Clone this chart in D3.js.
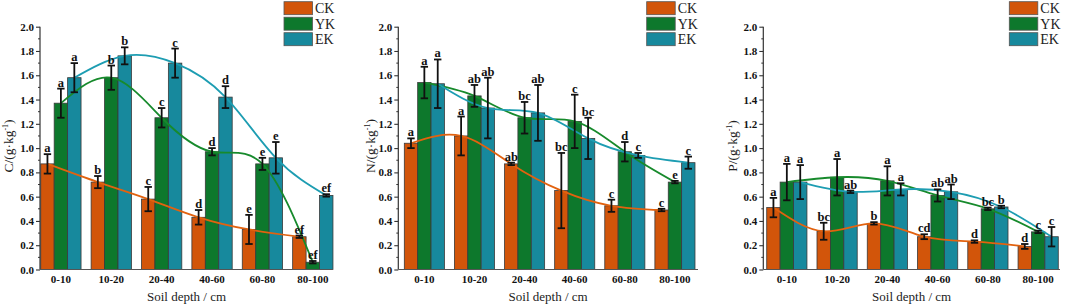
<!DOCTYPE html>
<html>
<head>
<meta charset="utf-8">
<script src="https://cdn.jsdelivr.net/npm/d3@7/dist/d3.min.js"></script>
<style>
  html, body { margin: 0; padding: 0; background: #fff; }
  svg { display: block; }
</style>
</head>
<body>
<svg id="chart" width="1065" height="307"></svg>
<script>
// Soil depth groups and treatments
const CATS = ['0-10', '10-20', '20-40', '40-60', '60-80', '80-100']
const SERIES = ['CK', 'YK', 'EK']
const Y_TICKS = [0, 0.2, 0.4, 0.6, 0.8, 1.0, 1.2, 1.4, 1.6, 1.8, 2.0]

// C content
const C_CK = [0.87, 0.72, 0.58, 0.43, 0.33, 0.27]
const C_YK = [1.37, 1.58, 1.25, 0.97, 0.87, 0.06]
const C_EK = [1.58, 1.76, 1.70, 1.42, 0.92, 0.61]
const C_CK_ERR = [0.08, 0.05, 0.10, 0.06, 0.12, 0.01]
const C_YK_ERR = [0.12, 0.10, 0.08, 0.03, 0.05, 0.01]
const C_EK_ERR = [0.12, 0.07, 0.12, 0.09, 0.13, 0.01]
const C_CK_SIG = ['a', 'b', 'c', 'd', 'e', 'ef']
const C_YK_SIG = ['a', 'b', 'c', 'd', 'e', 'ef']
const C_EK_SIG = ['a', 'b', 'c', 'd', 'e', 'ef']

// N content
const N_CK = [1.04, 1.10, 0.87, 0.65, 0.525, 0.49]
const N_YK = [1.54, 1.43, 1.25, 1.22, 0.97, 0.72]
const N_EK = [1.53, 1.33, 1.29, 1.08, 0.94, 0.88]
const N_CK_ERR = [0.04, 0.16, 0.01, 0.31, 0.05, 0.01]
const N_YK_ERR = [0.13, 0.09, 0.13, 0.22, 0.08, 0.01]
const N_EK_ERR = [0.20, 0.25, 0.23, 0.17, 0.02, 0.05]
const N_CK_SIG = ['a', 'a', 'ab', 'bc', 'c', 'c']
const N_YK_SIG = ['a', 'ab', 'bc', 'c', 'd', 'e']
const N_EK_SIG = ['a', 'ab', 'ab', 'bc', 'c', 'c']

// P content
const P_CK = [0.51, 0.315, 0.38, 0.27, 0.23, 0.19]
const P_YK = [0.72, 0.76, 0.73, 0.61, 0.50, 0.31]
const P_EK = [0.72, 0.64, 0.66, 0.64, 0.515, 0.27]
const P_CK_ERR = [0.08, 0.07, 0.01, 0.02, 0.01, 0.02]
const P_YK_ERR = [0.15, 0.15, 0.12, 0.05, 0.01, 0.01]
const P_EK_ERR = [0.14, 0.01, 0.05, 0.06, 0.01, 0.08]
const P_CK_SIG = ['a', 'bc', 'b', 'cd', 'd', 'd']
const P_YK_SIG = ['a', 'a', 'a', 'ab', 'bc', 'c']
const P_EK_SIG = ['a', 'ab', 'a', 'ab', 'b', 'c']

const BAR_COLORS = { CK: '#d2550a', YK: '#0d782c', EK: '#17899d' }
const LINE_COLORS = { CK: '#e2620f', YK: '#178a2c', EK: '#1d9db2' }
const FONT = '"Liberation Serif","Times New Roman",serif'

const panels = [
  { label: 'C', axisX: 40, xEnd: 333, band: [35.7, 338], legX: 284, titleX: 9,
    values: { CK: C_CK, YK: C_YK, EK: C_EK },
    errs: { CK: C_CK_ERR, YK: C_YK_ERR, EK: C_EK_ERR },
    sig: { CK: C_CK_SIG, YK: C_YK_SIG, EK: C_EK_SIG } },
  { label: 'N', axisX: 398.3, xEnd: 698, band: [399.3, 700], legX: 646.7, titleX: 371,
    values: { CK: N_CK, YK: N_YK, EK: N_EK },
    errs: { CK: N_CK_ERR, YK: N_YK_ERR, EK: N_EK_ERR },
    sig: { CK: N_CK_SIG, YK: N_YK_SIG, EK: N_EK_SIG } },
  { label: 'P', axisX: 763.3, xEnd: 1060, band: [761.7, 1063.3], legX: 1009.3, titleX: 733,
    values: { CK: P_CK, YK: P_YK, EK: P_EK },
    errs: { CK: P_CK_ERR, YK: P_YK_ERR, EK: P_EK_ERR },
    sig: { CK: P_CK_SIG, YK: P_YK_SIG, EK: P_EK_SIG } }
]

const svg = d3.select('#chart')
const y = d3.scaleLinear().domain([0, 2]).range([269.5, 26.7])

panels.forEach(p => {
  const g = svg.append('g')

  const x = d3.scaleBand().domain(CATS).range(p.band).paddingInner(0.2).paddingOuter(0.1)
  const xs = d3.scaleBand().domain(SERIES).range([0, x.bandwidth()])
  const cx = (cat, s) => x(cat) + xs(s) + xs.bandwidth() / 2

  // Bars
  SERIES.forEach(s => {
    g.append('g').selectAll('rect')
      .data(CATS.map((c, i) => ({ c, v: p.values[s][i] })))
      .join('rect')
      .attr('x', d => x(d.c) + xs(s))
      .attr('y', d => y(d.v))
      .attr('width', xs.bandwidth())
      .attr('height', d => y(0) - y(d.v))
      .attr('fill', BAR_COLORS[s])
      .attr('stroke', '#3a3a3a')
      .attr('stroke-width', 0.8)
  })

  // Smooth trend lines through bar tops
  SERIES.forEach(s => {
    const line = d3.line()
      .x((d, i) => cx(CATS[i], s))
      .y(d => y(d))
      .curve(d3.curveNatural)
    g.append('path')
      .attr('d', line(p.values[s]))
      .attr('fill', 'none')
      .attr('stroke', LINE_COLORS[s])
      .attr('stroke-width', 1.8)
  })

  // Error bars and significance letters
  SERIES.forEach(s => {
    CATS.forEach((c, i) => {
      const v = p.values[s][i], e = p.errs[s][i]
      const px = cx(c, s)
      const y1 = y(v + e), y0 = y(v - e)
      const eg = g.append('g').attr('stroke', '#111').attr('stroke-width', 1.8)
      eg.append('line').attr('x1', px).attr('x2', px).attr('y1', y1).attr('y2', y0)
      eg.append('line').attr('x1', px - 3.7).attr('x2', px + 3.7).attr('y1', y1).attr('y2', y1)
      eg.append('line').attr('x1', px - 3.7).attr('x2', px + 3.7).attr('y1', y0).attr('y2', y0)
      g.append('text')
        .attr('x', px).attr('y', y1 - 2)
        .attr('text-anchor', 'middle')
        .attr('font-family', FONT).attr('font-weight', 'bold').attr('font-size', '12.5px')
        .attr('fill', '#111')
        .text(p.sig[s][i])
    })
  })

  // Y axis
  g.append('g')
    .attr('transform', `translate(${p.axisX},0)`)
    .call(d3.axisLeft(y).tickValues(Y_TICKS).tickFormat(d3.format('.1f')).tickSize(4).tickPadding(2))
    .call(a => {
      a.select('.domain').attr('stroke', '#333').attr('stroke-width', 1.2)
        .attr('d', `M0,${y(0)}V${y(2)}`)
      a.selectAll('.tick line').attr('stroke', '#333').attr('stroke-width', 1.1)
      a.selectAll('.tick text')
        .attr('fill', '#111').attr('font-size', '11px').attr('font-weight', 'bold')
        .attr('font-family', FONT)
    })
  // minor ticks
  g.append('g').selectAll('line')
    .data(d3.range(0.1, 2, 0.2))
    .join('line')
    .attr('x1', p.axisX - 2).attr('x2', p.axisX)
    .attr('y1', d => y(d)).attr('y2', d => y(d))
    .attr('stroke', '#333').attr('stroke-width', 1)

  // X axis
  g.append('line')
    .attr('x1', p.axisX).attr('x2', p.xEnd)
    .attr('y1', y(0)).attr('y2', y(0))
    .attr('stroke', '#555').attr('stroke-width', 1.2)
  g.append('g').selectAll('text')
    .data(CATS)
    .join('text')
    .attr('x', d => x(d) + x.bandwidth() / 2)
    .attr('y', 283)
    .attr('text-anchor', 'middle')
    .attr('font-family', FONT).attr('font-weight', 'bold').attr('font-size', '11px')
    .attr('fill', '#111')
    .text(d => d)

  // Axis titles
  g.append('text')
    .attr('x', (p.axisX + p.xEnd) / 2).attr('y', 301)
    .attr('text-anchor', 'middle')
    .attr('font-family', FONT).attr('font-size', '13px').attr('fill', '#222')
    .text('Soil depth / cm')

  const yt = g.append('text')
    .attr('transform', `translate(${p.titleX + 4},146) rotate(-90)`)
    .attr('text-anchor', 'middle')
    .attr('font-family', FONT).attr('font-size', '13.5px').attr('fill', '#222')
  yt.append('tspan').text(`${p.label}/(g·kg`)
  yt.append('tspan').attr('font-size', '8px').attr('dy', -5).text('-1')
  yt.append('tspan').attr('dy', 5).text(')')

  // Legend
  SERIES.forEach((s, i) => {
    g.append('rect')
      .attr('x', p.legX).attr('y', 1.7 + i * 15.5)
      .attr('width', 28.5).attr('height', 13)
      .attr('fill', BAR_COLORS[s])
      .attr('stroke', '#555').attr('stroke-width', 0.8)
    g.append('text')
      .attr('x', p.legX + 31).attr('y', 13 + i * 15.5)
      .attr('font-family', FONT).attr('font-size', '14px').attr('fill', '#222')
      .text(s)
  })
})
</script>
</body>
</html>
